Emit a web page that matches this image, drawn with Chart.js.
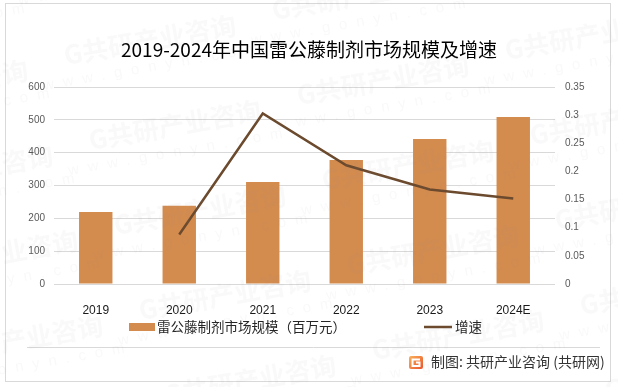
<!doctype html>
<html lang="zh-CN">
  <head>
    <meta charset="UTF-8" />
    <title>2019-2024年中国雷公藤制剂市场规模及增速</title>
    <script src="https://cdn.jsdelivr.net/npm/chart.js"></script>
    <style>
      html, body { margin: 0; padding: 0; background: #fff; }
      #wrap { width: 618px; height: 387px; }
    </style>
  </head>
  <body>
    <div id="wrap"><canvas id="market-chart" width="618" height="387"></canvas></div>
    <script>
      // chart data
      const years = ['2019', '2020', '2021', '2022', '2023', '2024E'];
      const marketSize = [219, 238, 311, 378, 442, 509];
      const growthRate = [null, 0.088, 0.303, 0.211, 0.168, 0.152];
      const leftTicks = [0, 100, 200, 300, 400, 500, 600];
      const rightTicks = [0, 0.05, 0.1, 0.15, 0.2, 0.25, 0.3, 0.35];

      const titleText = '2019-2024年中国雷公藤制剂市场规模及增速';
      const sourceText = '制图: 共研产业咨询 (共研网)';
      const barColor = '#d38b4e';
      const lineColor = '#6b4a2e';
      const cjk = '"Noto Sans CJK SC", "Noto Sans", sans-serif';
      const latin = '"Liberation Sans", "Noto Sans CJK SC", sans-serif';

      // faint company watermark, tiled
      function drawWatermarks(ctx) {
        ctx.save();
        ctx.fillStyle = 'rgba(160,160,160,0.06)';
        for (let i = -2; i <= 3; i++) {
          for (let j = -2; j <= 4; j++) {
            const cx = 175 + i * 233 + j * 25;
            const cy = 125 + i * 40 + j * 85;
            if (cx < -150 || cx > 760 || cy < -60 || cy > 440) continue;
            ctx.save();
            ctx.translate(cx, cy);
            ctx.rotate(-10 * Math.PI / 180);
            ctx.textAlign = 'center';
            ctx.textBaseline = 'middle';
            ctx.font = 'bold 26px ' + cjk;
            ctx.fillText('G共研产业咨询', 0, 0);
            ctx.font = '15px ' + latin;
            ctx.letterSpacing = '9px';
            ctx.fillText('www.gonyn.com', 0, 27);
            ctx.restore();
          }
        }
        ctx.restore();
      }

      const framePlugin = {
        id: 'frame',
        beforeDraw(chart) {
          const ctx = chart.ctx;
          ctx.save();
          ctx.fillStyle = '#ffffff';
          ctx.fillRect(0, 0, chart.width, chart.height);
          ctx.strokeStyle = '#d9d9d9';
          ctx.lineWidth = 1;
          ctx.strokeRect(5.5, 3.5, 605, 378);
          ctx.beginPath();
          ctx.moveTo(27, 347.5);
          ctx.lineTo(600, 347.5);
          ctx.stroke();

          // title
          ctx.fillStyle = '#000000';
          ctx.font = '19px ' + cjk;
          ctx.textAlign = 'center';
          ctx.textBaseline = 'middle';
          ctx.fillText(titleText, 309, 50);
          ctx.restore();
        },
        afterDraw(chart) {
          const ctx = chart.ctx;
          const ds = chart.data.datasets;
          ctx.save();
          ctx.textBaseline = 'middle';
          ctx.textAlign = 'left';
          ctx.font = '13.5px ' + cjk;
          ctx.fillStyle = '#262626';

          // legend: bar
          ctx.fillStyle = ds[1].backgroundColor;
          ctx.fillRect(129, 323, 26, 8);
          ctx.fillStyle = '#262626';
          ctx.fillText(ds[1].label, 157, 327);

          // legend: line
          ctx.strokeStyle = ds[0].borderColor;
          ctx.lineWidth = 2.5;
          ctx.beginPath();
          ctx.moveTo(424, 327);
          ctx.lineTo(452, 327);
          ctx.stroke();
          ctx.fillText(ds[0].label, 455, 327);

          // source logo
          const g = ctx.createLinearGradient(409, 356, 423, 369);
          g.addColorStop(0, '#f9b15a');
          g.addColorStop(1, '#e9542b');
          ctx.fillStyle = g;
          ctx.beginPath();
          ctx.roundRect(409, 356, 14, 13, 2);
          ctx.fill();
          ctx.strokeStyle = '#ffffff';
          ctx.lineWidth = 2;
          ctx.beginPath();
          ctx.moveTo(420, 359.5);
          ctx.lineTo(412.5, 359.5);
          ctx.lineTo(412.5, 366);
          ctx.lineTo(419.5, 366);
          ctx.lineTo(419.5, 362.5);
          ctx.lineTo(416, 362.5);
          ctx.stroke();

          // source text
          ctx.fillStyle = '#333333';
          ctx.font = '14px ' + cjk;
          ctx.fillText(sourceText, 431, 362);

          drawWatermarks(ctx);
          ctx.restore();
        }
      };

      const ctx = document.getElementById('market-chart').getContext('2d');
      const marketChart = new Chart(ctx, {
        type: 'bar',
        data: {
          labels: years,
          datasets: [
            {
              type: 'line',
              label: '增速',
              data: growthRate,
              yAxisID: 'y1',
              borderColor: lineColor,
              backgroundColor: lineColor,
              borderWidth: 2.5,
              pointRadius: 0,
              tension: 0,
              fill: false,
              spanGaps: false,
              order: 0
            },
            {
              type: 'bar',
              label: '雷公藤制剂市场规模（百万元）',
              data: marketSize,
              yAxisID: 'y',
              backgroundColor: barColor,
              borderWidth: 0,
              barPercentage: 0.4,
              categoryPercentage: 1,
              order: 1
            }
          ]
        },
        options: {
          responsive: false,
          devicePixelRatio: 1,
          animation: false,
          layout: { padding: { top: 87, left: 0, right: 0, bottom: 0 } },
          plugins: {
            legend: { display: false },
            title: { display: false },
            tooltip: { enabled: false }
          },
          scales: {
            x: {
              grid: { display: false },
              border: { display: false },
              ticks: {
                padding: 11,
                color: '#1a1a1a',
                font: { size: 12, family: latin }
              },
              afterFit(scale) { scale.height = 103; }
            },
            y: {
              position: 'left',
              min: leftTicks[0],
              max: leftTicks[leftTicks.length - 1],
              afterBuildTicks(scale) { scale.ticks = leftTicks.map(v => ({ value: v })); },
              grid: { color: '#d9d9d9', drawTicks: false },
              border: { display: false },
              ticks: {
                padding: 9,
                color: '#595959',
                font: { size: 10, family: latin }
              },
              afterFit(scale) { scale.width = 54; }
            },
            y1: {
              position: 'right',
              min: rightTicks[0],
              max: rightTicks[rightTicks.length - 1],
              afterBuildTicks(scale) { scale.ticks = rightTicks.map(v => ({ value: v })); },
              grid: { display: false, drawTicks: false },
              border: { display: false },
              ticks: {
                padding: 10,
                color: '#595959',
                font: { size: 10, family: latin },
                callback: v => String(+Number(v).toFixed(2))
              },
              afterFit(scale) { scale.width = 63; }
            }
          }
        },
        plugins: [framePlugin]
      });
    </script>
  </body>
</html>
